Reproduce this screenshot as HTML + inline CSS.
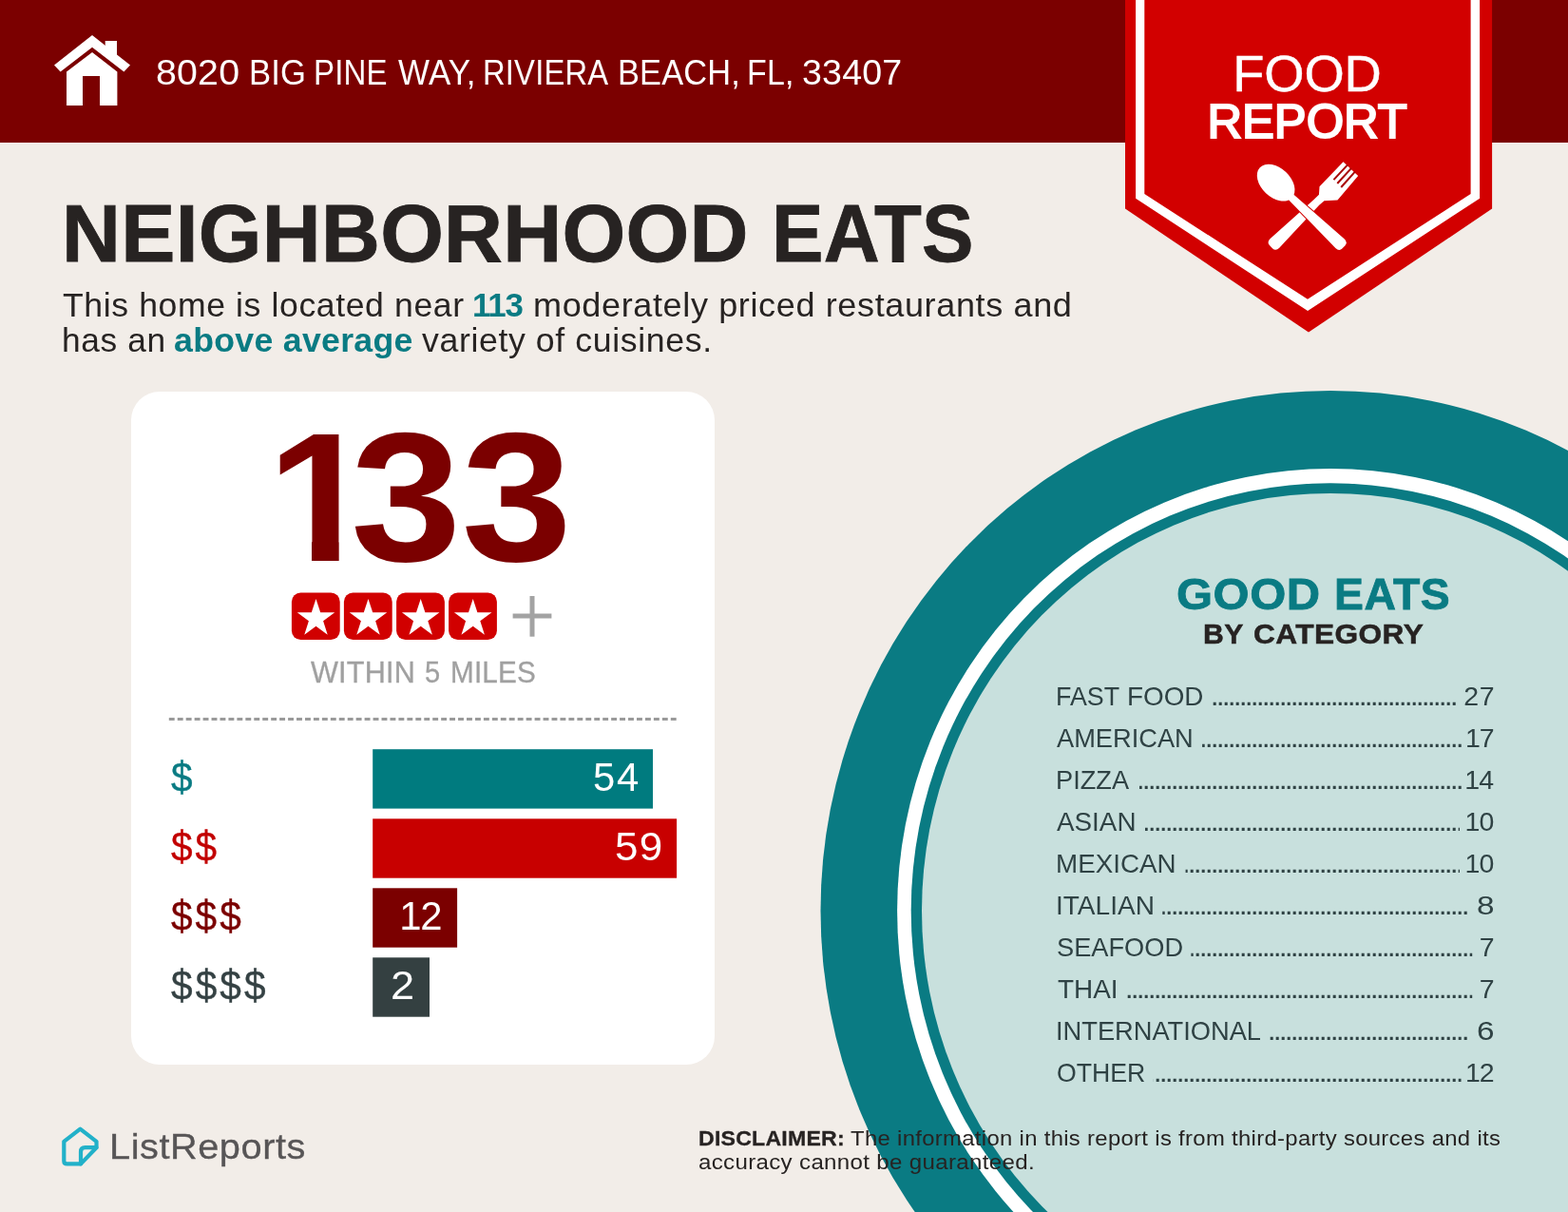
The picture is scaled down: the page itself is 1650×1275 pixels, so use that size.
<!DOCTYPE html>
<html lang="en">
<head>
<meta charset="utf-8">
<title>Food Report - Neighborhood Eats</title>
<style>
html,body{margin:0;padding:0;}
body{width:1650px;height:1275px;overflow:hidden;background:#f2ede8;font-family:"Liberation Sans",sans-serif;}
#page{position:relative;width:1650px;height:1275px;overflow:hidden;background:#f2ede8;}
#art{position:absolute;left:0;top:0;width:1650px;height:1275px;}
.g{margin:0;padding:0;font-weight:400;font-size:0;line-height:0;}
.t{position:absolute;display:block;white-space:nowrap;margin:0;padding:0;transform-origin:0 0;}
</style>
</head>
<body>
<div id="page">
<svg id="art" width="1650" height="1275" viewBox="0 0 1650 1275">
  <!-- plate -->
  <ellipse cx="1400" cy="958" rx="536.5" ry="547.1" fill="#0a7b83"/>
  <ellipse cx="1400" cy="958" rx="455.9" ry="465" fill="#fff"/>
  <ellipse cx="1400" cy="958" rx="441.3" ry="449.7" fill="#0a7b83"/>
  <ellipse cx="1400" cy="958" rx="430" ry="439" fill="#c8e0dd"/>
  <!-- header -->
  <rect x="0" y="0" width="1650" height="150" fill="#7b0000"/>
  <!-- house -->
  <g fill="#fff">
    <polygon points="97,37 57,68.5 63.6,75.5 97,49.7 130.4,75.5 137,68.5"/>
    <polygon points="110.7,43 123,43 123,60 110.7,52"/>
    <polygon points="97,55 123.4,75.5 123.4,111 105,111 105,80 87,80 87,111 70,111 70,75.5"/>
  </g>
  <!-- badge -->
  <polygon points="1184,0 1184,219.6 1377,349.6 1570.1,219.6 1570.1,0" fill="#d20000"/>
  <polygon points="1195.1,0 1195.1,208.7 1376.1,327.1 1557.1,208.7 1557.1,0" fill="#fff"/>
  <polygon points="1204.3,0 1204.3,204 1376,314.7 1547.6,204 1547.6,0" fill="#d20000"/>
  <!-- fork -->
  <g transform="translate(1421 177.7) rotate(45.5)" fill="#fff">
    <path d="M-10.5,0.2 L10.9,-0.7 L13.9,32.6 L4.7,43.2 L4.1,50 L6.8,111.5 Q6.9,117 2,117 L-2,117 Q-6.9,117 -6.8,111.5 L-4,50 L-3.8,42.6 L-9.6,36.1 Z"/>
    <g stroke="#a80000" stroke-width="2"><line x1="-5.15" y1="-1" x2="-4.2" y2="20.5"/><line x1="0.2" y1="-1" x2="1.3" y2="20.5"/><line x1="5.55" y1="-1.4" x2="6.9" y2="20.5"/></g>
  </g>
  <!-- spoon -->
  <g transform="translate(1325.8 176.2) rotate(-46.5)">
    <path d="M3.8,44 L6.7,116 Q6.8,121.5 2,121.5 L-2,121.5 Q-6.8,121.5 -6.7,116 L-3.8,44 Z" fill="#fff" stroke="#d20000" stroke-width="2"/>
    <ellipse cx="0" cy="23.2" rx="15.3" ry="23.2" fill="#fff"/>
    <path d="M3.8,44 L6.7,116 Q6.8,121.5 2,121.5 L-2,121.5 Q-6.8,121.5 -6.7,116 L-3.8,44 Z" fill="#fff"/>
  </g>
  <!-- card -->
  <rect x="138" y="412" width="614" height="708" rx="30" ry="30" fill="#fff"/>
  <rect x="306.9" y="623.4" width="50.8" height="49.6" rx="9.5" ry="9.5" fill="#d10000"/><polygon points="332.50,630.00 337.20,644.33 352.28,644.37 340.11,653.27 344.73,667.63 332.50,658.80 320.27,667.63 324.89,653.27 312.72,644.37 327.80,644.33" fill="#fff"/><rect x="361.9" y="623.4" width="50.8" height="49.6" rx="9.5" ry="9.5" fill="#d10000"/><polygon points="387.50,630.00 392.20,644.33 407.28,644.37 395.11,653.27 399.73,667.63 387.50,658.80 375.27,667.63 379.89,653.27 367.72,644.37 382.80,644.33" fill="#fff"/><rect x="417.1" y="623.4" width="50.8" height="49.6" rx="9.5" ry="9.5" fill="#d10000"/><polygon points="442.70,630.00 447.40,644.33 462.48,644.37 450.31,653.27 454.93,667.63 442.70,658.80 430.47,667.63 435.09,653.27 422.92,644.37 438.00,644.33" fill="#fff"/><rect x="472.1" y="623.4" width="50.8" height="49.6" rx="9.5" ry="9.5" fill="#d10000"/><polygon points="497.70,630.00 502.40,644.33 517.48,644.37 505.31,653.27 509.93,667.63 497.70,658.80 485.47,667.63 490.09,653.27 477.92,644.37 493.00,644.33" fill="#fff"/>
  <g fill="#a3a3a3"><rect x="539.6" y="645.5" width="40.8" height="5"/><rect x="557.5" y="627" width="5" height="42.7"/></g>
  <line x1="177.8" y1="756.4" x2="711.9" y2="756.4" stroke="#9a9a9a" stroke-width="3" stroke-dasharray="5.9 3.049"/>
  <rect x="392.2" y="788.2" width="294.8" height="62.4" fill="#007b7f"/>
  <rect x="392.2" y="861.3" width="319.9" height="62.4" fill="#c80000"/>
  <rect x="392.2" y="934.3" width="88.9" height="62.4" fill="#7b0000"/>
  <rect x="392.2" y="1007.3" width="59.8" height="62.4" fill="#344041"/>
  <!-- leaders -->
  <g stroke="#2f4244" stroke-width="3.2" stroke-dasharray="3 3"><line x1="1276.7" y1="740.35" x2="1532.3" y2="740.35" stroke-dashoffset="0.00"/><line x1="1265.1" y1="784.35" x2="1538.1" y2="784.35" stroke-dashoffset="0.40"/><line x1="1199.0" y1="828.35" x2="1538.5" y2="828.35" stroke-dashoffset="0.30"/><line x1="1205.0" y1="872.35" x2="1536.0" y2="872.35" stroke-dashoffset="0.30"/><line x1="1247.6" y1="916.35" x2="1536.0" y2="916.35" stroke-dashoffset="0.90"/><line x1="1223.3" y1="960.35" x2="1544.3" y2="960.35" stroke-dashoffset="0.60"/><line x1="1253.4" y1="1004.35" x2="1549.2" y2="1004.35" stroke-dashoffset="0.70"/><line x1="1184.5" y1="1048.35" x2="1549.2" y2="1048.35" stroke-dashoffset="3.80"/><line x1="1336.3" y1="1092.35" x2="1544.3" y2="1092.35" stroke-dashoffset="5.60"/><line x1="1213.6" y1="1136.35" x2="1537.5" y2="1136.35" stroke-dashoffset="2.90"/></g>
  <!-- logo mark -->
  <g fill="none" stroke="#22b1c9" stroke-width="4.2" stroke-linejoin="round" stroke-linecap="round">
    <path d="M84.4,1187.6 L101.5,1200.8 L101.5,1207.2 L85,1224.4 L70.5,1224.4 Q67.3,1224.4 67.3,1221.2 L67.3,1200.8 Z"/>
    <path d="M101.5,1207.2 L89.5,1207.2 Q85,1207.2 85,1211.7 L85,1224.4"/>
  </g>
</svg>
<div class="g"><span class="t" style="left:163.59px;top:55.36px;font-size:36.48px;line-height:44px;letter-spacing:0.200px;color:#fff;transform:scaleX(1.07706);">8020</span> <span class="t" style="left:261.89px;top:55.36px;font-size:36.48px;line-height:44px;letter-spacing:0.200px;color:#fff;transform:scaleX(0.94974);">BIG</span> <span class="t" style="left:330.00px;top:55.36px;font-size:36.48px;line-height:44px;letter-spacing:0.200px;color:#fff;transform:scaleX(0.90485);">PINE</span> <span class="t" style="left:418.90px;top:55.36px;font-size:36.48px;line-height:44px;letter-spacing:0.200px;color:#fff;transform:scaleX(0.95842);">WAY,</span> <span class="t" style="left:508.32px;top:55.36px;font-size:36.48px;line-height:44px;letter-spacing:0.200px;color:#fff;transform:scaleX(0.89807);">RIVIERA</span> <span class="t" style="left:649.71px;top:55.36px;font-size:36.48px;line-height:44px;letter-spacing:0.200px;color:#fff;transform:scaleX(0.94235);">BEACH,</span> <span class="t" style="left:786.03px;top:55.36px;font-size:36.48px;line-height:44px;letter-spacing:0.200px;color:#fff;transform:scaleX(0.93067);">FL,</span> <span class="t" style="left:843.64px;top:55.36px;font-size:36.48px;line-height:44px;letter-spacing:0.200px;color:#fff;transform:scaleX(1.0296);">33407</span></div>
<div class="g"><span class="t" style="left:1297.31px;top:44.66px;font-size:54.36px;line-height:65px;letter-spacing:-0.178px;color:#fff;-webkit-text-stroke:0.4px #fff;">FOOD</span> <span class="t" style="left:1270.49px;top:96.92px;font-size:50.73px;line-height:61px;letter-spacing:-0.048px;color:#fff;-webkit-text-stroke:2.1px #fff;">REPORT</span></div>
<h1 class="g"><span class="t" style="left:65.27px;top:194.59px;font-size:84.89px;line-height:102px;letter-spacing:0.300px;color:#272322;font-weight:700;transform:scaleX(1.00981);-webkit-text-stroke:0.8px #272322;">NEIGHBORHOOD</span> <span class="t" style="left:812.42px;top:194.59px;font-size:84.89px;line-height:102px;letter-spacing:0.300px;color:#272322;font-weight:700;transform:scaleX(0.96153);-webkit-text-stroke:0.8px #272322;">EATS</span></h1>
<p class="g"><span class="t" style="left:65.90px;top:299.91px;font-size:34.88px;line-height:42px;letter-spacing:0.600px;color:#272322;transform:scaleX(1.02009);">This home is located near</span> <span class="t" style="left:496.92px;top:299.91px;font-size:34.88px;line-height:42px;letter-spacing:-1.179px;color:#0a7b83;font-weight:700;">113</span> <span class="t" style="left:560.81px;top:299.91px;font-size:34.88px;line-height:42px;letter-spacing:0.600px;color:#272322;transform:scaleX(1.03364);">moderately priced restaurants and</span> <span class="t" style="left:65.05px;top:336.91px;font-size:34.88px;line-height:42px;letter-spacing:0.600px;color:#272322;transform:scaleX(1.01209);">has an</span> <span class="t" style="left:182.56px;top:336.91px;font-size:34.88px;line-height:42px;letter-spacing:0.300px;color:#0a7b83;font-weight:700;transform:scaleX(1.0222);">above average</span> <span class="t" style="left:443.86px;top:336.91px;font-size:34.88px;line-height:42px;letter-spacing:0.600px;color:#272322;transform:scaleX(1.02273);">variety of cuisines.</span></p>
<div class="t" style="left:0;top:407.02px;font-size:193.32px;line-height:232px;color:#7b0000;font-weight:700;"><span style="display:inline-block;width:109px;transform-origin:0 0;transform:translateX(280.67px) scaleX(1.057);clip-path:polygon(0 0,107.5px 0,107.5px 162.8px,71.9px 162.8px,71.9px 189.0px,44.8px 189.0px,44.8px 162.8px,0 162.8px);">1</span><span style="display:inline-block;width:217px;transform-origin:0 0;transform:translateX(259.89px) scaleX(1.083);letter-spacing:0.087px;">33</span></div>
<div class="g"><span class="t" style="left:327.16px;top:688.82px;font-size:30.81px;line-height:37px;letter-spacing:0.200px;color:#a0a0a0;transform:scaleX(0.9945);-webkit-text-stroke:0.3px #a0a0a0;">WITHIN</span> <span class="t" style="left:446.79px;top:688.82px;font-size:30.81px;line-height:37px;color:#a0a0a0;transform:scaleX(0.94457);-webkit-text-stroke:0.3px #a0a0a0;">5</span> <span class="t" style="left:473.71px;top:688.82px;font-size:30.81px;line-height:37px;letter-spacing:0.200px;color:#a0a0a0;transform:scaleX(0.96383);-webkit-text-stroke:0.3px #a0a0a0;">MILES</span></div>
<div class="g"><span class="t" style="left:179.76px;top:790.55px;font-size:44.60px;line-height:54px;color:#0a7b83;transform:scaleX(0.91);-webkit-text-stroke:0.4px #0a7b83;">$</span> <span class="t" style="left:624.12px;top:792.50px;font-size:41.86px;line-height:50px;letter-spacing:1.540px;color:#fff;">54</span></div>
<div class="g"><span class="t" style="left:179.76px;top:863.55px;font-size:44.60px;line-height:54px;letter-spacing:3.127px;color:#c20000;transform:scaleX(0.91);-webkit-text-stroke:0.4px #c20000;">$$</span> <span class="t" style="left:647.14px;top:865.50px;font-size:41.86px;line-height:50px;letter-spacing:1.192px;color:#fff;transform:scaleX(1.05);">59</span></div>
<div class="g"><span class="t" style="left:179.76px;top:936.55px;font-size:44.60px;line-height:54px;letter-spacing:3.337px;color:#7b0000;transform:scaleX(0.91);-webkit-text-stroke:0.4px #7b0000;">$$$</span> <span class="t" style="left:420.24px;top:938.50px;font-size:41.86px;line-height:50px;letter-spacing:-1.200px;color:#fff;">12</span></div>
<div class="g"><span class="t" style="left:179.76px;top:1009.55px;font-size:44.60px;line-height:54px;letter-spacing:3.407px;color:#344143;transform:scaleX(0.91);-webkit-text-stroke:0.4px #344143;">$$$$</span> <span class="t" style="left:411.33px;top:1011.50px;font-size:41.86px;line-height:50px;color:#fff;transform:scaleX(1.08);">2</span></div>
<h2 class="g"><span class="t" style="left:1237.59px;top:596.88px;font-size:46.51px;line-height:56px;letter-spacing:0.500px;color:#0a7b83;font-weight:700;transform:scaleX(1.05248);-webkit-text-stroke:0.8px #0a7b83;">GOOD</span> <span class="t" style="left:1404.12px;top:596.88px;font-size:46.51px;line-height:56px;letter-spacing:0.500px;color:#0a7b83;font-weight:700;transform:scaleX(0.996);-webkit-text-stroke:0.8px #0a7b83;">EATS</span></h2>
<h3 class="g"><span class="t" style="left:1265.53px;top:648.47px;font-size:30.38px;line-height:36px;letter-spacing:0.400px;color:#272322;font-weight:700;transform:scaleX(0.99304);-webkit-text-stroke:0.5px #272322;">BY</span> <span class="t" style="left:1319.10px;top:648.47px;font-size:30.38px;line-height:36px;letter-spacing:0.400px;color:#272322;font-weight:700;transform:scaleX(1.04236);-webkit-text-stroke:0.5px #272322;">CATEGORY</span></h3>
<div class="g"><span class="t" style="left:1111.21px;top:715.13px;font-size:28.49px;line-height:34px;color:#2f4244;transform:scaleX(0.94211);">FAST</span> <span class="t" style="left:1186.02px;top:715.13px;font-size:28.49px;line-height:34px;color:#2f4244;transform:scaleX(0.97716);">FOOD</span> <span class="t" style="left:1540.34px;top:715.13px;font-size:28.49px;line-height:34px;letter-spacing:0.600px;color:#2f4244;">27</span></div>
<div class="g"><span class="t" style="left:1112.27px;top:759.13px;font-size:28.49px;line-height:34px;color:#2f4244;transform:scaleX(0.95577);">AMERICAN</span> <span class="t" style="left:1541.94px;top:759.13px;font-size:28.49px;line-height:34px;letter-spacing:-1.000px;color:#2f4244;">17</span></div>
<div class="g"><span class="t" style="left:1111.14px;top:803.13px;font-size:28.49px;line-height:34px;color:#2f4244;transform:scaleX(0.9542);">PIZZA</span> <span class="t" style="left:1541.35px;top:803.13px;font-size:28.49px;line-height:34px;letter-spacing:-1.000px;color:#2f4244;">14</span></div>
<div class="g"><span class="t" style="left:1112.26px;top:847.13px;font-size:28.49px;line-height:34px;color:#2f4244;transform:scaleX(0.97693);">ASIAN</span> <span class="t" style="left:1541.62px;top:847.13px;font-size:28.49px;line-height:34px;letter-spacing:-1.000px;color:#2f4244;">10</span></div>
<div class="g"><span class="t" style="left:1111.01px;top:891.13px;font-size:28.49px;line-height:34px;color:#2f4244;transform:scaleX(0.97497);">MEXICAN</span> <span class="t" style="left:1541.62px;top:891.13px;font-size:28.49px;line-height:34px;letter-spacing:-1.000px;color:#2f4244;">10</span></div>
<div class="g"><span class="t" style="left:1111.02px;top:935.13px;font-size:28.49px;line-height:34px;color:#2f4244;transform:scaleX(0.98479);">ITALIAN</span> <span class="t" style="left:1554.11px;top:935.13px;font-size:28.49px;line-height:34px;color:#2f4244;transform:scaleX(1.17);">8</span></div>
<div class="g"><span class="t" style="left:1111.78px;top:979.13px;font-size:28.49px;line-height:34px;color:#2f4244;transform:scaleX(0.95532);">SEAFOOD</span> <span class="t" style="left:1556.79px;top:979.13px;font-size:28.49px;line-height:34px;color:#2f4244;">7</span></div>
<div class="g"><span class="t" style="left:1112.97px;top:1023.13px;font-size:28.49px;line-height:34px;color:#2f4244;transform:scaleX(0.97852);">THAI</span> <span class="t" style="left:1556.79px;top:1023.13px;font-size:28.49px;line-height:34px;color:#2f4244;">7</span></div>
<div class="g"><span class="t" style="left:1111.28px;top:1067.13px;font-size:28.49px;line-height:34px;color:#2f4244;transform:scaleX(0.95658);">INTERNATIONAL</span> <span class="t" style="left:1554.13px;top:1067.13px;font-size:28.49px;line-height:34px;color:#2f4244;transform:scaleX(1.17);">6</span></div>
<div class="g"><span class="t" style="left:1112.25px;top:1111.13px;font-size:28.49px;line-height:34px;color:#2f4244;transform:scaleX(0.93553);">OTHER</span> <span class="t" style="left:1541.94px;top:1111.13px;font-size:28.49px;line-height:34px;letter-spacing:-1.000px;color:#2f4244;">12</span></div>
<p class="g"><span class="t" style="left:735.10px;top:1184.50px;font-size:21.66px;line-height:26px;letter-spacing:0.200px;color:#272322;font-weight:700;transform:scaleX(1.06739);-webkit-text-stroke:0.3px #272322;">DISCLAIMER:</span> <span class="t" style="left:894.89px;top:1183.84px;font-size:22.09px;line-height:27px;letter-spacing:0.300px;color:#272322;transform:scaleX(1.08035);">The information in this report is from third-party sources and its</span> <span class="t" style="left:735.05px;top:1208.84px;font-size:22.09px;line-height:27px;letter-spacing:0.300px;color:#272322;transform:scaleX(1.09085);">accuracy cannot be guaranteed.</span></p>
<div class="g"><span class="t" style="left:115.14px;top:1183.61px;font-size:37.21px;line-height:45px;letter-spacing:0.500px;color:#575556;transform:scaleX(1.06825);-webkit-text-stroke:0.3px #575556;">ListReports</span></div>
</div>
</body>
</html>
